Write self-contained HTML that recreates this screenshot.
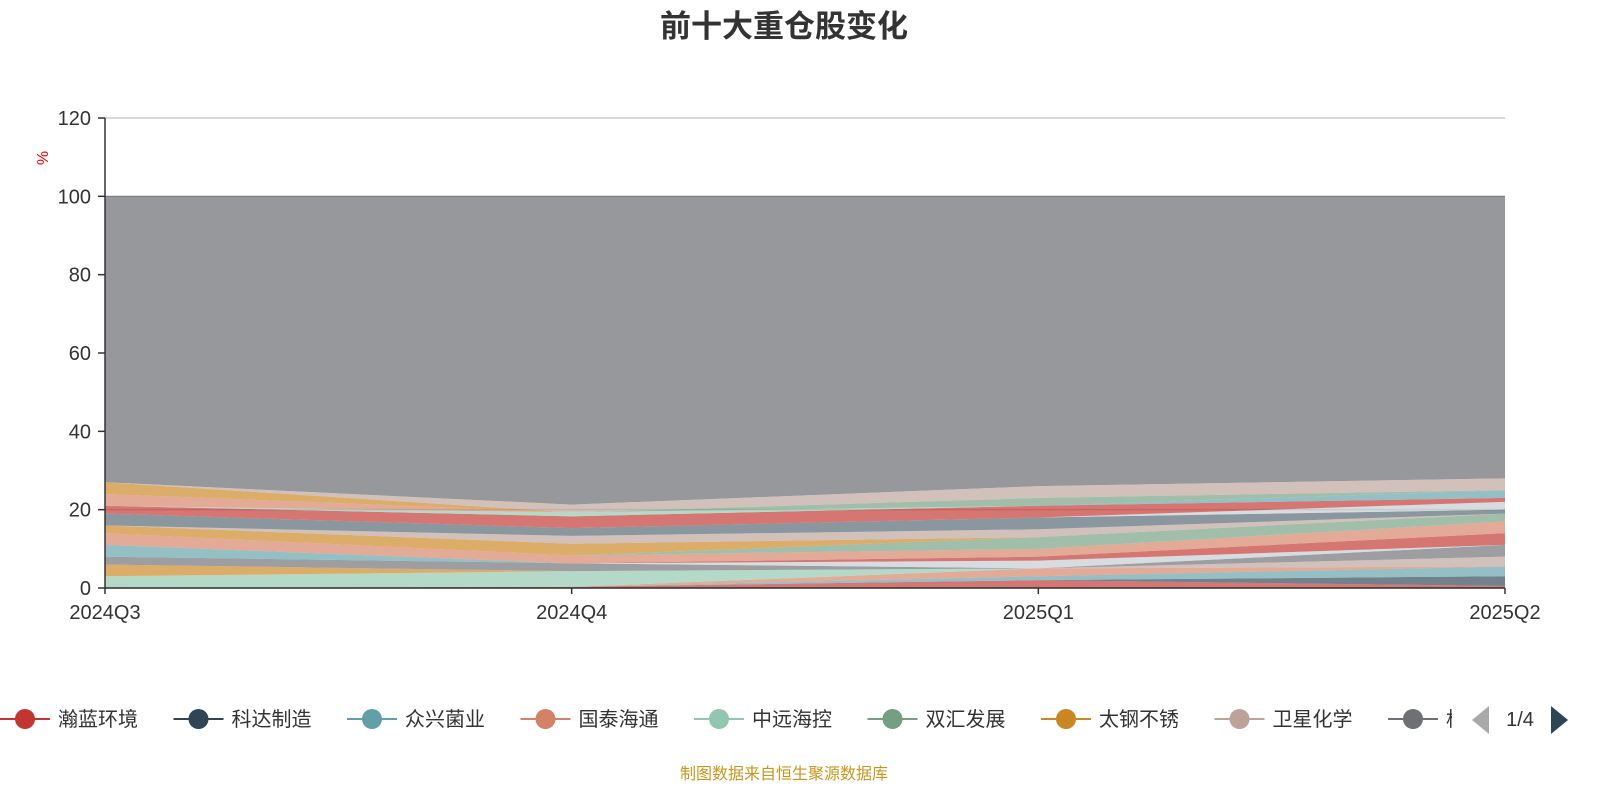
<!DOCTYPE html>
<html><head><meta charset="utf-8">
<style>
html,body{margin:0;padding:0;background:#fff;}
body{width:1600px;height:800px;overflow:hidden;font-family:"Liberation Sans","Noto Sans CJK SC",sans-serif;}
svg text{font-family:"Liberation Sans","Noto Sans CJK SC",sans-serif;}
</style></head>
<body>
<svg id="chart" width="1600" height="800" xmlns="http://www.w3.org/2000/svg">
<text x="784" y="37" text-anchor="middle" font-size="31" font-weight="bold" fill="#333">前十大重仓股变化</text>
<g id="grid"></g>
<g id="areas"></g>
<g id="axes"></g>
<g id="legend"></g>
<text x="784" y="779" text-anchor="middle" font-size="16" fill="#c8961e">制图数据来自恒生聚源数据库</text>
</svg>
<script>
const categories = ['2024Q3','2024Q4','2025Q1','2025Q2'];
const yTicks = [0,20,40,60,80,100,120];
const seriesColors = ['#c23531','#2f4554','#61a0a8','#d48265','#91c7ae','#ca8622','#bda29a','#6e7074','#c4ccd3','#c23531','#61a0a8','#d48265','#749f83','#ca8622','#bda29a','#546570','#c4ccd3','#c23531','#61a0a8','#91c7ae','#749f83','#d48265','#ca8622','#bda29a'];
const s01 = [0,0.3,2,0.5];
const s02 = [0,0,0,2.5];
const s03 = [0,0,1,2.5];
const s04 = [0,0,2,0];
const s05 = [3,4,0,0];
const s06 = [3,0,0,0];
const s07 = [0,0,0,2.5];
const s08 = [2,2,0,3];
const s09 = [0,0,2,0];
const s10 = [0,0,1,3];
const s11 = [3,0,0,0];
const s12 = [3,2,2,3];
const s13 = [0,0,3,2];
const s14 = [2,3,0,0];
const s15 = [0,2,2,0];
const s16 = [3,2,3,1];
const s17 = [0,0,0,2];
const s18 = [2,3,3,1];
const s19 = [0,0,0,2];
const s20 = [0,1,0,0];
const s21 = [0,0,2,0];
const s22 = [3,0,0,0];
const s23 = [3,0,0,0];
const s24 = [0,2,3,3];
const otherTotal = [100,100,100,100];
const legendNames = ['瀚蓝环境','科达制造','众兴菌业','国泰海通','中远海控','双汇发展','太钢不锈','卫星化学','格'];
const legendColors = ['#c23531','#2f4554','#61a0a8','#d48265','#91c7ae','#749f83','#ca8622','#bda29a','#6e7074'];

const NS='http://www.w3.org/2000/svg';
const X0=105,X1=1505,Y0=588,Y120=118;
const xS=i=>X0+(X1-X0)*i/(categories.length-1);
const yS=v=>Y0-(Y0-Y120)*v/120;
function mk(tag,attrs,parent){const e=document.createElementNS(NS,tag);for(const k in attrs)e.setAttribute(k,attrs[k]);parent.appendChild(e);return e;}
const grid=document.getElementById('grid'),areas=document.getElementById('areas'),axes=document.getElementById('axes'),legend=document.getElementById('legend');

yTicks.forEach(t=>{
  const l=mk('line',{x1:X0,x2:X1,y1:yS(t),y2:yS(t),stroke:'#ccc','stroke-width':1.5},grid);
  
  
  const tk=mk('line',{x1:X0-7,x2:X0,y1:yS(t),y2:yS(t),stroke:'#333','stroke-width':1.5},axes);
  
  
  const tx=mk('text',{x:X0-14,y:yS(t)+7,'text-anchor':'end','font-size':20,fill:'#333'},axes);
  tx.textContent=t;
  
  
});

const series=[s01,s02,s03,s04,s05,s06,s07,s08,s09,s10,s11,s12,s13,s14,s15,s16,s17,s18,s19,s20,s21,s22,s23,s24];
let base=categories.map(()=>0);
function area(lo,hi,color,op,name){
  let d='M'+categories.map((c,i)=>xS(i)+','+yS(hi[i])).join('L');
  for(let i=categories.length-1;i>=0;i--)d+='L'+xS(i)+','+yS(lo[i]);
  const p=mk('path',{d:d+'Z',fill:color,'fill-opacity':op},areas);
  
  
}
series.forEach((s,k)=>{
  const top=base.map((b,i)=>b+s[i]);
  area(base,top,seriesColors[k],0.68,'area-series-'+(k+1));
  base=top;
});
area(base,otherTotal,'#97989c',1,'area-other');
const topLine=mk('polyline',{points:categories.map((c,i)=>xS(i)+','+yS(otherTotal[i])).join(' '),fill:'none',stroke:'#7a7b80','stroke-width':1},areas);



const ya=mk('line',{x1:X0,x2:X0,y1:Y120,y2:Y0,stroke:'#333','stroke-width':1.5},axes);


const xa=mk('line',{x1:X0,x2:X1,y1:Y0,y2:Y0,stroke:'#333','stroke-width':1.5},axes);


categories.forEach((c,i)=>{
  const t=mk('line',{x1:xS(i),x2:xS(i),y1:Y0,y2:Y0+6,stroke:'#333','stroke-width':1.5},axes);
  
  
  const tx=mk('text',{x:xS(i),y:619,'text-anchor':'middle','font-size':20,fill:'#333'},axes);
  tx.textContent=c;
  
  
});
const yt=mk('text',{x:48,y:158,'text-anchor':'middle','font-size':16,fill:'#e00',transform:'rotate(-90 48 158)'},axes);
yt.textContent='%';



legendNames.forEach((n,i)=>{
  const cx=25+i*173.5;
  const g=mk('g',{},legend);
  
  
  mk('line',{x1:cx-25,x2:cx+25,y1:719,y2:719,stroke:legendColors[i],'stroke-width':2},g);
  mk('circle',{cx:cx,cy:719,r:10,fill:legendColors[i]},g);
  const tx=mk('text',{x:cx+33,y:726,'font-size':20,fill:'#333'},g);
  tx.textContent=n;
});
const cover=mk('rect',{x:1452,y:700,width:148,height:40,fill:'#fff'},legend);


const pl=mk('path',{d:'M1489,706 L1472,720 L1489,734 Z',fill:'#aaa'},legend);


const pt=mk('text',{x:1520,y:726,'text-anchor':'middle','font-size':20,fill:'#333'},legend);
pt.textContent='1/4';


const pr=mk('path',{d:'M1551,706 L1568,720 L1551,734 Z',fill:'#2f4554'},legend);


</script>
</body></html>
